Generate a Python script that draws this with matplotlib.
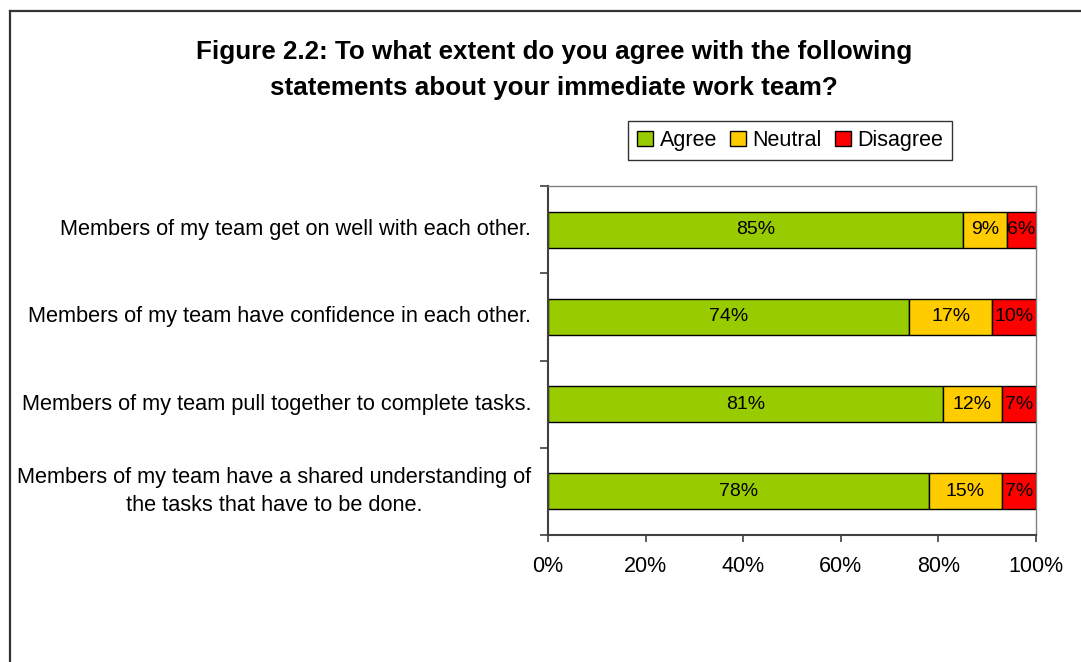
import matplotlib
matplotlib.use("Agg")
import matplotlib.pyplot as plt
from matplotlib.lines import Line2D

plt.rcParams['font.family'] = ['Liberation Sans', 'DejaVu Sans']

# survey data
statements = [
    "Members of my team get on well with each other.",
    "Members of my team have confidence in each other.",
    "Members of my team pull together to complete tasks.",
    "Members of my team have a shared understanding of\nthe tasks that have to be done.",
]
agree = [85, 74, 81, 78]
neutral = [9, 17, 12, 15]
disagree = [6, 10, 7, 7]
series_names = ["Agree", "Neutral", "Disagree"]
series_colors = ["#99CC00", "#FFCC00", "#FF0000"]
x_ticks = [0, 20, 40, 60, 80, 100]

W, H = 1081, 662
fig = plt.figure(figsize=(W / 100, H / 100), dpi=100)
ax = fig.add_axes([548 / W, 1 - 535 / H, 488 / W, 349 / H])

y = list(range(len(statements)))
left = [0] * len(statements)
for vals, name, col in zip([agree, neutral, disagree], series_names, series_colors):
    bars = ax.barh(y, vals, left=left, height=0.41, color=col,
                   edgecolor="black", linewidth=1.0, label=name)
    ax.bar_label(bars, labels=[f"{v}%" for v in vals], label_type="center",
                 fontsize=14)
    left = [l + v for l, v in zip(left, vals)]

ax.set_xlim(0, 100)
ax.set_ylim(len(statements) - 0.5, -0.5)

ax.set_xticks(x_ticks)
ax.set_xticklabels([f"{t}%" for t in x_ticks], fontsize=15.5)
ax.set_yticks(y)
ax.set_yticklabels(statements, fontsize=15.7, ha="right", va="center",
                   multialignment="center", linespacing=1.4)
ax.set_yticks([i - 0.5 for i in range(len(statements) + 1)], minor=True)
ax.tick_params(axis="y", which="major", length=0, pad=12)
ax.tick_params(axis="y", which="minor", length=6, width=1.2, color="#404040")
ax.tick_params(axis="x", length=5, width=1.2, color="#404040", pad=10)

for side in ["top", "right"]:
    ax.spines[side].set_color("#808080")
    ax.spines[side].set_linewidth(1.0)
for side in ["left", "bottom"]:
    ax.spines[side].set_color("#404040")
    ax.spines[side].set_linewidth(1.5)

fig.text(554 / W, 1 - 70 / H,
         "Figure 2.2: To what extent do you agree with the following\n"
         "statements about your immediate work team?",
         ha="center", va="center", fontsize=18.7, fontweight="bold", linespacing=1.6)

leg = ax.legend(loc="center", bbox_to_anchor=(790 / W, 1 - 140.5 / H),
                bbox_transform=fig.transFigure, ncol=3, fontsize=15.5,
                frameon=True, fancybox=False, edgecolor="black",
                handlelength=0.75, handleheight=0.75, handletextpad=0.3,
                columnspacing=0.6, borderpad=0.4)
leg.get_frame().set_linewidth(1.0)
for h in leg.legend_handles:
    h.set_edgecolor("black")

# chart border (left and top edges)
fig.add_artist(Line2D([9.5 / W, 9.5 / W], [0, 1 - 11 / H], transform=fig.transFigure,
                      color="#333333", linewidth=1.6))
fig.add_artist(Line2D([9.5 / W, 1], [1 - 11 / H, 1 - 11 / H], transform=fig.transFigure,
                      color="#333333", linewidth=1.6))

fig.savefig("out.png", dpi=100)
